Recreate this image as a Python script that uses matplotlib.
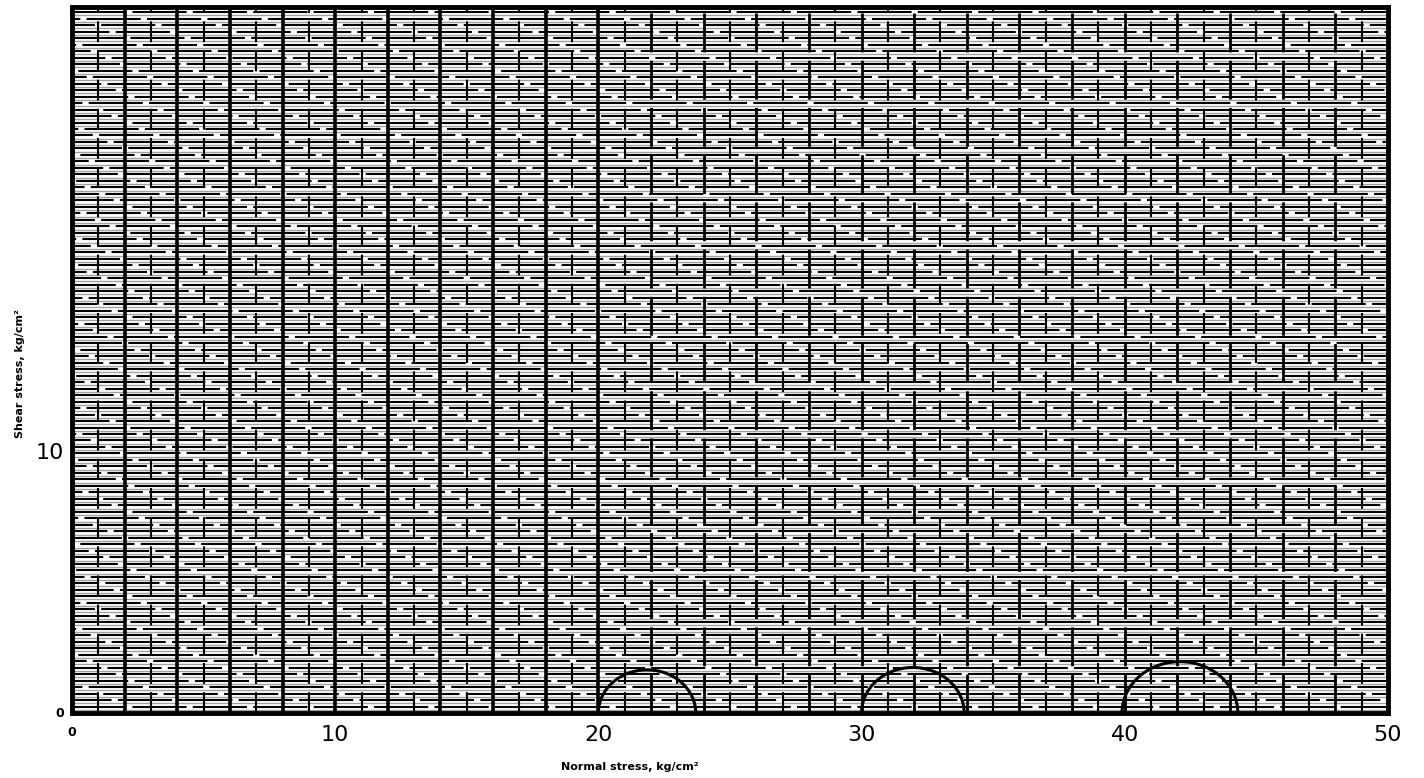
import numpy as np
import matplotlib
matplotlib.use("Agg")
import matplotlib.pyplot as plt

# ---- data ----
circle_centers = [21.85, 31.95, 42.1]
circle_radii = [1.85, 1.95, 2.2]
x_ticks = [0, 10, 20, 30, 40, 50]
x_tick_labels = ["0", "10", "20", "30", "40", "50"]
y_ticks = [0, 10]
y_tick_labels = ["0", "10"]
x_min, x_max = 0, 50
y_min, y_max = 0, 27.2
h_grid_step = 0.25
v_grid_step = 1.0

fig = plt.figure(figsize=(14.24, 7.78), dpi=100)
ax = fig.add_axes([0.0506, 0.0835, 0.924, 0.9075])
ax.set_xlim(x_min, x_max)
ax.set_ylim(y_min, y_max)

# dense horizontal grid
for i, y in enumerate(np.arange(y_min + h_grid_step, y_max, h_grid_step)):
    ax.axhline(y, color="black", lw=1.5, ls=(i * 7 % 30, (26, 3)), zorder=1)
    ax.axhline(y - h_grid_step / 2, color="#a0a0a0", lw=1.0, zorder=0.9)

# vertical grid
for x in np.arange(x_min + v_grid_step, x_max, v_grid_step):
    k = int(round(x))
    if k % 2 == 0:
        if x <= 20:
            ax.axvline(x, color="black", lw=2.6, zorder=2)
        else:
            ax.axvline(x, color="black", lw=2.0, ls=(0, (14, 3)), zorder=2)
    else:
        ax.axvline(x, color="black", lw=1.5, ls=(0, (10, 4)), zorder=2)

# Mohr semicircles
t = np.linspace(0, np.pi, 200)
for c, r in zip(circle_centers, circle_radii):
    ax.plot(c + r * np.cos(t), r * np.sin(t) * 0.9, color="black", lw=2.2, zorder=3)

for s in ax.spines.values():
    s.set_linewidth(3.5)
    s.set_zorder(5)

ax.set_xticks(x_ticks)
ax.set_yticks(y_ticks)
ax.tick_params(length=0)
ax.set_xticklabels([])
ax.set_yticklabels([])

# tick labels
for xv, lab in zip(x_ticks, x_tick_labels):
    if xv == 0:
        ax.text(xv, -0.5, lab, ha="center", va="top", fontsize=9, fontweight="bold")
    else:
        ax.text(xv, -0.45, lab, ha="center", va="top", fontsize=16)
ax.text(-0.3, 0, y_tick_labels[0], ha="right", va="center", fontsize=9, fontweight="bold")
ax.text(-0.3, 10, y_tick_labels[1], ha="right", va="center", fontsize=16)

fig.text(0.442, 0.014, "Normal stress, kg/cm²", ha="center", va="center",
         fontsize=8, fontweight="bold")
fig.text(0.014, 0.52, "Shear stress, kg/cm²", ha="center", va="center",
         fontsize=8, fontweight="bold", rotation=90)

fig.savefig("out.png", dpi=100)
